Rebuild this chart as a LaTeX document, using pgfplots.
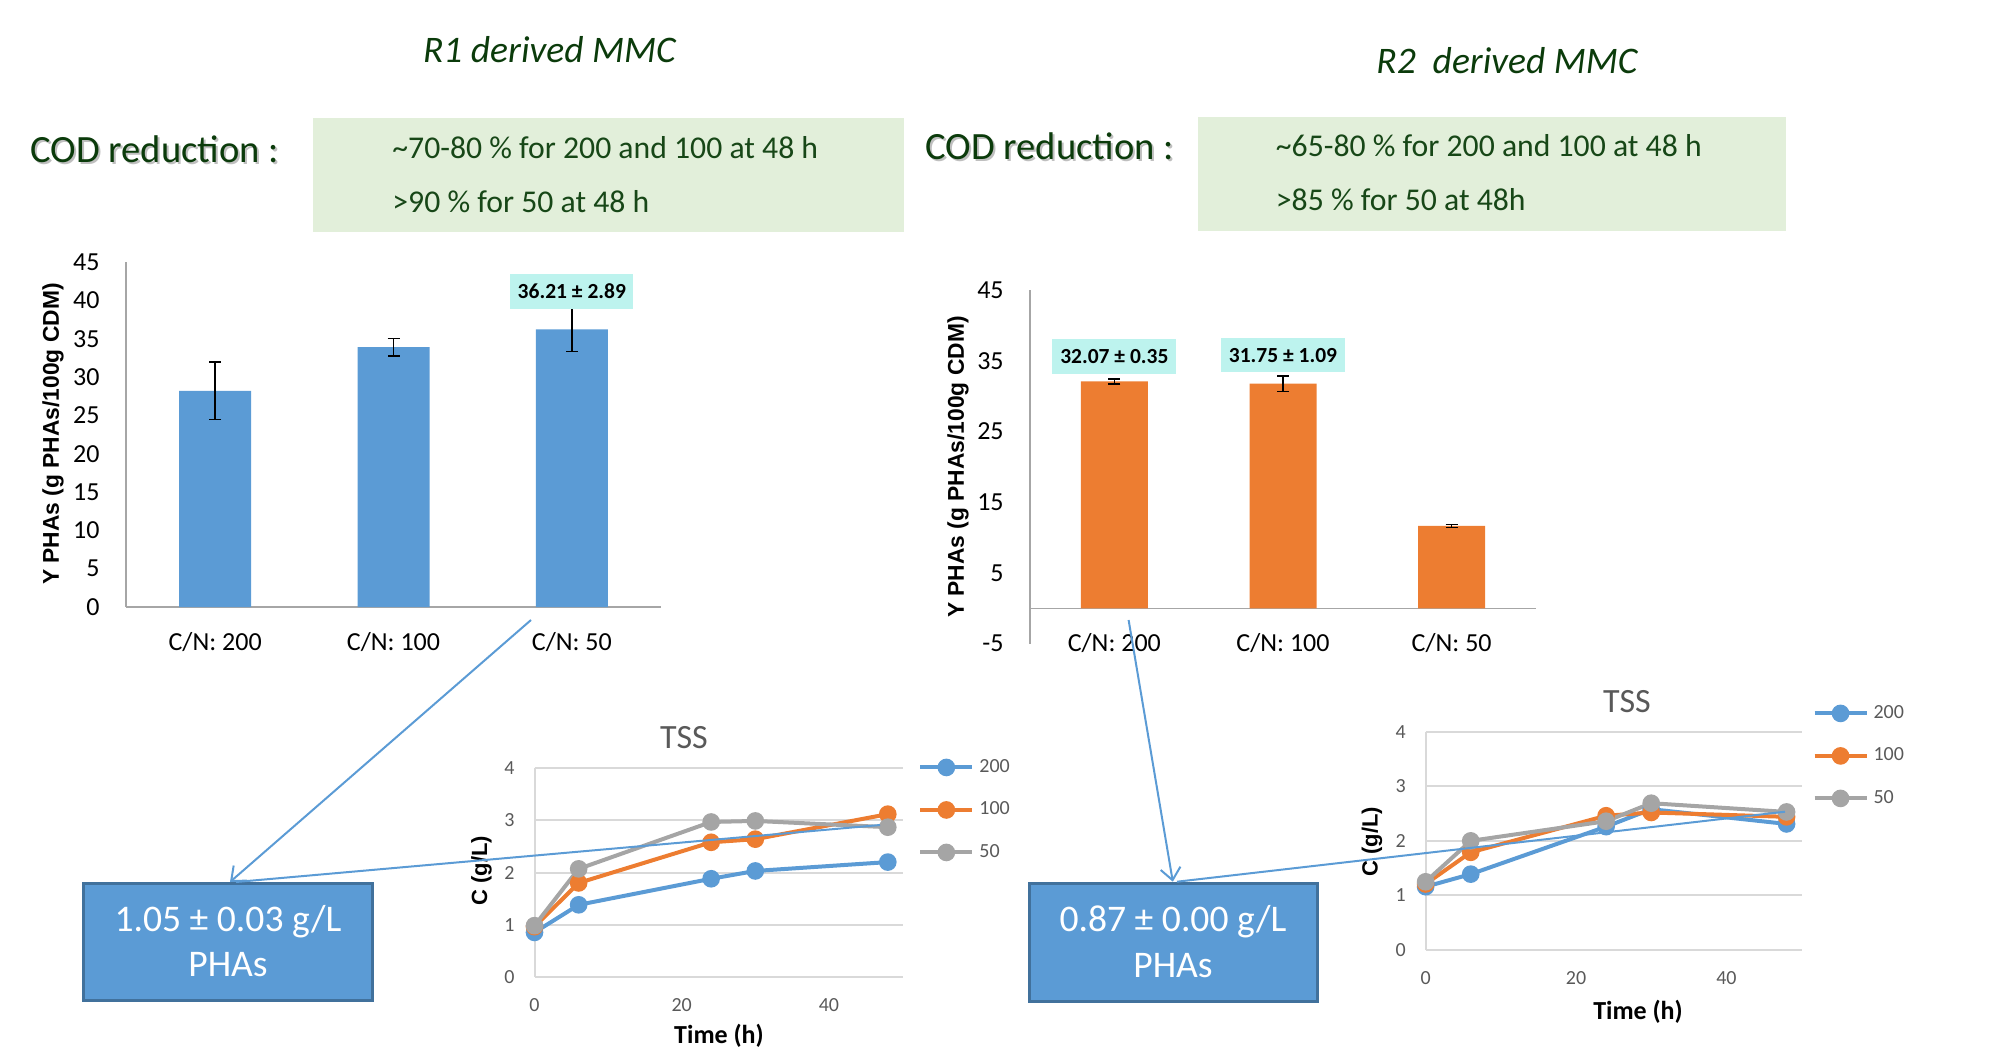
\documentclass[border=0pt]{standalone}
\usepackage{fontspec}
\setmainfont{Carlito}
\newfontfamily\arialf{Liberation Sans}
\usepackage{pgfplots}
\pgfplotsset{compat=1.18}
\usetikzlibrary{arrows.meta}
\definecolor{barblue}{HTML}{5B9BD5}
\definecolor{barorange}{HTML}{ED7D31}
\definecolor{sergray}{HTML}{A5A5A5}
\definecolor{labcyan}{HTML}{BDF3EE}
\definecolor{greenbox}{HTML}{E2EFDA}
\definecolor{dgreen}{HTML}{0B3B0B}
\definecolor{tgreen}{HTML}{174717}
\definecolor{bluebord}{HTML}{41719C}
\definecolor{axgray}{HTML}{A6A6A6}
\definecolor{tssgrid}{HTML}{D9D9D9}
\definecolor{tssgray}{HTML}{595959}
\newcommand\fs[1]{\fontsize{#1}{#1}\selectfont}

\pgfplotsset{
  barax/.style={scale only axis, anchor=south west, clip=false,
    xmin=-0.5, xmax=2.5, ybar, bar shift=0pt,
    axis lines=left, axis line style={-, draw=axgray, line width=0.75pt},
    major tick length=0pt, enlargelimits=false,
    xtick={0,1,2}, xticklabels={C/N: 200, C/N: 100, C/N: 50},
    tick label style={font=\fs{13pt}, inner sep=0pt, text=black},
    yticklabel style={anchor=east, xshift=-13pt},
  },
  tssax/.style={scale only axis, anchor=south west, clip=false,
    xmin=0, xmax=50, ymin=0, ymax=4, enlargelimits=false,
    xtick={0,20,40}, xticklabels={0,20,40},
    ytick={0,1,2,3,4}, yticklabels={0,1,2,3,4},
    ymajorgrids, grid style={tssgrid, line width=1pt},
    axis lines=left, axis line style={-, draw=tssgrid, line width=1pt},
    major tick length=0pt,
    tick label style={font=\fs{10pt}, inner sep=0pt, text=tssgray},
    yticklabel style={anchor=east, xshift=-9.75pt},
    xticklabel style={anchor=center, yshift=-14.15pt},
    legend image code/.code={\draw[mark repeat=2,mark phase=2] plot coordinates {(0pt,0pt) (13pt,0pt) (26pt,0pt)};},
    every axis plot/.append style={line width=2pt, mark=*, mark size=3.4pt, mark options={solid}},
  },
  errb/.style={error bars/.cd, y dir=both, y explicit,
    error bar style={draw=black, line width=0.75pt},
    error mark options={rotate=90, draw=black, line width=0.75pt, mark size=3pt}},
}

\begin{document}
\begin{tikzpicture}
\path[use as bounding box] (0,0) rectangle (1005.5pt,-524pt);
\begin{scope}[x=0.5pt,y=-0.5pt]
  % titles
  \node[anchor=base west, inner sep=0pt, text=dgreen, font=\itshape\fs{18.75pt}] at (422.7,62.3) {R1 derived MMC};
  \node[anchor=base west, inner sep=0pt, text=dgreen, font=\itshape\fs{18.75pt}] at (1376,73.3) {R2\ \ derived MMC};
  % green boxes
  \fill[greenbox] (312.5,118) rectangle (904,232);
  \fill[greenbox] (1197.5,117) rectangle (1785.5,231);
  \node[anchor=base west, inner sep=0pt, text=tgreen, font=\fs{15.85pt}] at (392,158.3) {\textasciitilde70-80 \% for 200 and 100 at 48 h};
  \node[anchor=base west, inner sep=0pt, text=tgreen, font=\fs{15.85pt}] at (392,212.3) {>90 \% for 50 at 48 h};
  \node[anchor=base west, inner sep=0pt, text=tgreen, font=\fs{15.85pt}] at (1275.5,156.7) {\textasciitilde65-80 \% for 200 and 100 at 48 h};
  \node[anchor=base west, inner sep=0pt, text=tgreen, font=\fs{15.85pt}] at (1275.5,210.7) {>85 \% for 50 at 48h};
  % COD reduction with shadow
  \node[anchor=base west, inner sep=0pt, text=black, opacity=0.25, font=\fs{19.3pt}] at (32,165) {COD reduction :};
  \node[anchor=base west, inner sep=0pt, text=dgreen, font=\fs{19.3pt}] at (30,162.7) {COD reduction :};
  \node[anchor=base west, inner sep=0pt, text=black, opacity=0.25, font=\fs{19.3pt}] at (927,161.5) {COD reduction :};
  \node[anchor=base west, inner sep=0pt, text=dgreen, font=\fs{19.3pt}] at (925,159.2) {COD reduction :};
  % axis labels
  \node[rotate=90, inner sep=0pt, font=\arialf\bfseries\fs{11.4pt}] at (53,434) {Y PHAs (g PHAs/100g CDM)};
  \node[rotate=90, inner sep=0pt, font=\arialf\bfseries\fs{11.4pt}] at (958,467) {Y PHAs (g PHAs/100g CDM)};
  \node[rotate=90, inner sep=0pt, font=\arialf\bfseries\fs{11pt}] at (481.5,870.5) {C (g/L)};
  \node[rotate=90, inner sep=0pt, font=\arialf\bfseries\fs{11pt}] at (1372,841.7) {C (g/L)};
  \node[inner sep=0pt, font=\bfseries\fs{13pt}] at (719,1036) {Time (h)};
  \node[inner sep=0pt, font=\bfseries\fs{13pt}] at (1638,1012) {Time (h)};
  \node[inner sep=0pt, text=tssgray, font=\fs{17pt}] at (684,738) {TSS};
  \node[inner sep=0pt, text=tssgray, font=\fs{17pt}] at (1627,701.7) {TSS};
  % blue boxes
  \draw[fill=barblue, draw=bluebord, line width=1.5pt] (83.5,883) rectangle (372.5,1000.5);
  \node[anchor=base, inner sep=0pt, text=white, font=\fs{18.8pt}] at (228,931.7) {1.05 ± 0.03 g/L};
  \node[anchor=base, inner sep=0pt, text=white, font=\fs{18.8pt}] at (228,976.7) {PHAs};
  \draw[fill=barblue, draw=bluebord, line width=1.5pt] (1029.5,883) rectangle (1317,1001);
  \node[anchor=base, inner sep=0pt, text=white, font=\fs{18.8pt}] at (1173,931.7) {0.87 ± 0.00 g/L};
  \node[anchor=base, inner sep=0pt, text=white, font=\fs{18.8pt}] at (1173,977.5) {PHAs};
  % anchors
  \coordinate (A1) at (126,607);
  \coordinate (A2) at (1030,643.7);
  \coordinate (T1) at (534.5,976.7);
  \coordinate (T2) at (1425.6,950);
\end{scope}

% ---- left bar chart
\begin{axis}[barax, at={(A1)}, width=267.5pt, height=172.5pt, ymin=0, ymax=45,
  bar width=36pt,
  ytick={0,5,10,15,20,25,30,35,40,45}, yticklabels={0,5,10,15,20,25,30,35,40,45},
  xticklabel style={anchor=base, yshift=-21.5pt}]
\addplot[fill=barblue, draw=none, errb] coordinates {(0,28.2) +- (0,3.75) (1,33.9) +- (0,1.15) (2,36.21) +- (0,2.89)};
\node[fill=labcyan, inner sep=0pt, minimum width=61.5pt, minimum height=17.5pt, font=\bfseries\fs{10.75pt}] at (axis cs:2,41.2) {36.21 ± 2.89};
\end{axis}

% ---- right bar chart
\begin{axis}[barax, at={(A2)}, width=253pt, height=176.85pt, ymin=-5, ymax=45,
  bar width=33.5pt, x axis line style={draw=none},
  ytick={-5,5,15,25,35,45}, yticklabels={-5,5,15,25,35,45},
  xticklabel style={anchor=base, yshift=-3.8pt}]
\draw[axgray, line width=0.75pt] (axis cs:-0.5,0) -- (axis cs:2.5,0);
\addplot[fill=barorange, draw=none, errb] coordinates {(0,32.07) +- (0,0.35) (1,31.75) +- (0,1.09) (2,11.65) +- (0,0.2)};
\node[fill=labcyan, inner sep=0pt, minimum width=62pt, minimum height=17.3pt, font=\bfseries\fs{10.75pt}] at (axis cs:0,35.6) {32.07 ± 0.35};
\node[fill=labcyan, inner sep=0pt, minimum width=62pt, minimum height=17.3pt, font=\bfseries\fs{10.75pt}] at (axis cs:1,35.8) {31.75 ± 1.09};
\end{axis}

% ---- left TSS
\begin{axis}[tssax, at={(T1)}, width=184pt, height=104.2pt,
  legend style={at={(axis description cs:1.042,1.108)}, anchor=north west, draw=none, fill=none, inner sep=0pt, row sep=0pt, column sep=2.5pt, font=\fs{10pt}, text=tssgray, nodes={inner sep=0pt, minimum height=21.25pt, anchor=west}, cells={anchor=west}}]
\addplot[barblue] coordinates {(0,0.85) (6,1.38) (24,1.88) (30,2.03) (48,2.20)};
\addplot[barorange] coordinates {(0,0.96) (6,1.80) (24,2.58) (30,2.64) (48,3.12)};
\addplot[sergray] coordinates {(0,0.98) (6,2.07) (24,2.97) (30,2.99) (48,2.87)};
\legend{200,100,50}
\end{axis}

% ---- right TSS
\begin{axis}[tssax, at={(T2)}, width=188pt, height=109.15pt,
  legend style={at={(axis description cs:1.028,1.183)}, anchor=north west, draw=none, fill=none, inner sep=0pt, row sep=0pt, column sep=2.5pt, font=\fs{10pt}, text=tssgray, nodes={inner sep=0pt, minimum height=21.25pt, anchor=west}, cells={anchor=west}}]
\addplot[barblue] coordinates {(0,1.16) (6,1.39) (24,2.26) (30,2.58) (48,2.31)};
\addplot[barorange] coordinates {(0,1.21) (6,1.79) (24,2.46) (30,2.52) (48,2.44)};
\addplot[sergray] coordinates {(0,1.25) (6,2.00) (24,2.36) (30,2.69) (48,2.53)};
\legend{200,100,50}
\end{axis}

% arrows on top
\begin{scope}[x=0.5pt,y=-0.5pt]
  \draw[barblue, line width=1pt, -{Straight Barb[length=6pt,width=10pt]}] (531,620) -- (230,882);
  \draw[barblue, line width=1pt] (236,882) -- (880,825);
  \draw[barblue, line width=1pt, -{Straight Barb[length=6pt,width=10pt]}] (1128.6,620) -- (1172.8,881.7);
  \draw[barblue, line width=1pt] (1177,881.7) -- (1785,811.7);
\end{scope}
\end{tikzpicture}
\end{document}
